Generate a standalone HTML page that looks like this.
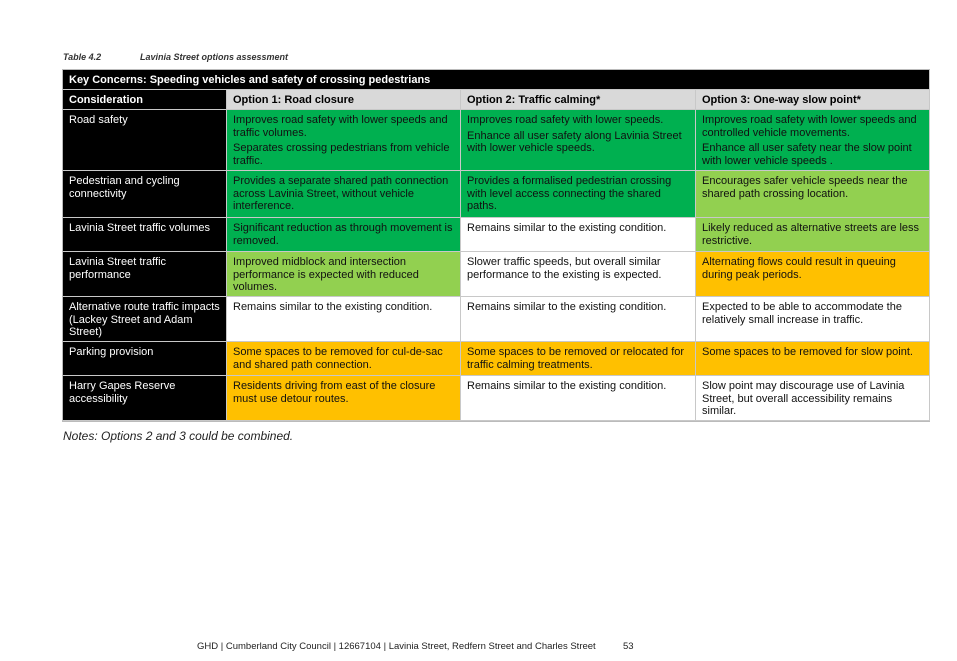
<!DOCTYPE html>
<html><head><meta charset="utf-8"><style>
body{margin:0;width:957px;height:661px;background:#fff;font-family:"Liberation Sans",Arial,sans-serif;position:relative;overflow:hidden}
.c{position:absolute;box-sizing:border-box;padding:4px 7px 2px 6px;font-size:11px;line-height:12.6px;color:#111;border-right:1px solid #c8c8c8;border-bottom:1px solid #c8c8c8}
.k{background:#000;color:#fff;padding-right:2px}
.h{background:#d9d9d9;font-weight:bold;color:#000}
.g{background:#00b050}
.l{background:#92d050}
.o{background:#ffc000}
.w{background:#fff}
p{margin:0 0 3px}
</style></head><body>
<div style="position:absolute;left:63px;top:52px;font-size:9px;font-weight:bold;font-style:italic;color:#333">Table 4.2</div>
<div style="position:absolute;left:140px;top:52px;font-size:9px;font-weight:bold;font-style:italic;color:#333">Lavinia Street options assessment</div>
<div style="position:absolute;left:62px;top:69px;width:868px;height:353px;border:1px solid #bbb;box-sizing:border-box"></div>
<div class="c k" style="left:63px;top:70px;width:867px;height:20px;font-weight:bold">Key Concerns: Speeding vehicles and safety of crossing pedestrians</div>
<div class="c k" style="left:63px;top:90px;width:164px;height:20px;font-weight:bold">Consideration</div>
<div class="c h" style="left:227px;top:90px;width:234px;height:20px">Option 1: Road closure</div>
<div class="c h" style="left:461px;top:90px;width:235px;height:20px">Option 2: Traffic calming*</div>
<div class="c h" style="left:696px;top:90px;width:234px;height:20px">Option 3: One-way slow point*</div>

<div class="c k" style="left:63px;top:110px;width:164px;height:61px">Road safety</div>
<div class="c g" style="left:227px;top:110px;width:234px;height:61px"><p>Improves road safety with lower speeds and traffic volumes.</p><p>Separates crossing pedestrians from vehicle traffic.</p></div>
<div class="c g" style="left:461px;top:110px;width:235px;height:61px"><p>Improves road safety with lower speeds.</p><p>Enhance all user safety along Lavinia Street with lower vehicle speeds.</p></div>
<div class="c g" style="left:696px;top:110px;width:234px;height:61px"><p>Improves road safety with lower speeds and controlled vehicle movements.</p><p>Enhance all user safety near the slow point with lower vehicle speeds .</p></div>

<div class="c k" style="left:63px;top:171px;width:164px;height:47px">Pedestrian and cycling connectivity</div>
<div class="c g" style="left:227px;top:171px;width:234px;height:47px">Provides a separate shared path connection across Lavinia Street, without vehicle interference.</div>
<div class="c g" style="left:461px;top:171px;width:235px;height:47px">Provides a formalised pedestrian crossing with level access connecting the shared paths.</div>
<div class="c l" style="left:696px;top:171px;width:234px;height:47px">Encourages safer vehicle speeds near the shared path crossing location.</div>

<div class="c k" style="left:63px;top:218px;width:164px;height:34px">Lavinia Street traffic volumes</div>
<div class="c g" style="left:227px;top:218px;width:234px;height:34px">Significant reduction as through movement is removed.</div>
<div class="c w" style="left:461px;top:218px;width:235px;height:34px">Remains similar to the existing condition.</div>
<div class="c l" style="left:696px;top:218px;width:234px;height:34px">Likely reduced as alternative streets are less restrictive.</div>

<div class="c k" style="left:63px;top:252px;width:164px;height:45px">Lavinia Street traffic performance</div>
<div class="c l" style="left:227px;top:252px;width:234px;height:45px">Improved midblock and intersection performance is expected with reduced volumes.</div>
<div class="c w" style="left:461px;top:252px;width:235px;height:45px">Slower traffic speeds, but overall similar performance to the existing is expected.</div>
<div class="c o" style="left:696px;top:252px;width:234px;height:45px">Alternating flows could result in queuing during peak periods.</div>

<div class="c k" style="left:63px;top:297px;width:164px;height:45px">Alternative route traffic impacts (Lackey Street and Adam Street)</div>
<div class="c w" style="left:227px;top:297px;width:234px;height:45px">Remains similar to the existing condition.</div>
<div class="c w" style="left:461px;top:297px;width:235px;height:45px">Remains similar to the existing condition.</div>
<div class="c w" style="left:696px;top:297px;width:234px;height:45px">Expected to be able to accommodate the relatively small increase in traffic.</div>

<div class="c k" style="left:63px;top:342px;width:164px;height:34px">Parking provision</div>
<div class="c o" style="left:227px;top:342px;width:234px;height:34px">Some spaces to be removed for cul-de-sac and shared path connection.</div>
<div class="c o" style="left:461px;top:342px;width:235px;height:34px">Some spaces to be removed or relocated for traffic calming treatments.</div>
<div class="c o" style="left:696px;top:342px;width:234px;height:34px">Some spaces to be removed for slow point.</div>

<div class="c k" style="left:63px;top:376px;width:164px;height:45px">Harry Gapes Reserve accessibility</div>
<div class="c o" style="left:227px;top:376px;width:234px;height:45px">Residents driving from east of the closure must use detour routes.</div>
<div class="c w" style="left:461px;top:376px;width:235px;height:45px">Remains similar to the existing condition.</div>
<div class="c w" style="left:696px;top:376px;width:234px;height:45px">Slow point may discourage use of Lavinia Street, but overall accessibility remains similar.</div>

<div style="position:absolute;left:63px;top:429px;font-size:12px;font-style:italic;color:#222">Notes: Options 2 and 3 could be combined.</div>
<div style="position:absolute;left:197px;top:641px;font-size:9.5px;color:#222">GHD | Cumberland City Council | 12667104 | Lavinia Street, Redfern Street and Charles Street</div>
<div style="position:absolute;left:623px;top:641px;font-size:9.5px;color:#222">53</div>
</body></html>
